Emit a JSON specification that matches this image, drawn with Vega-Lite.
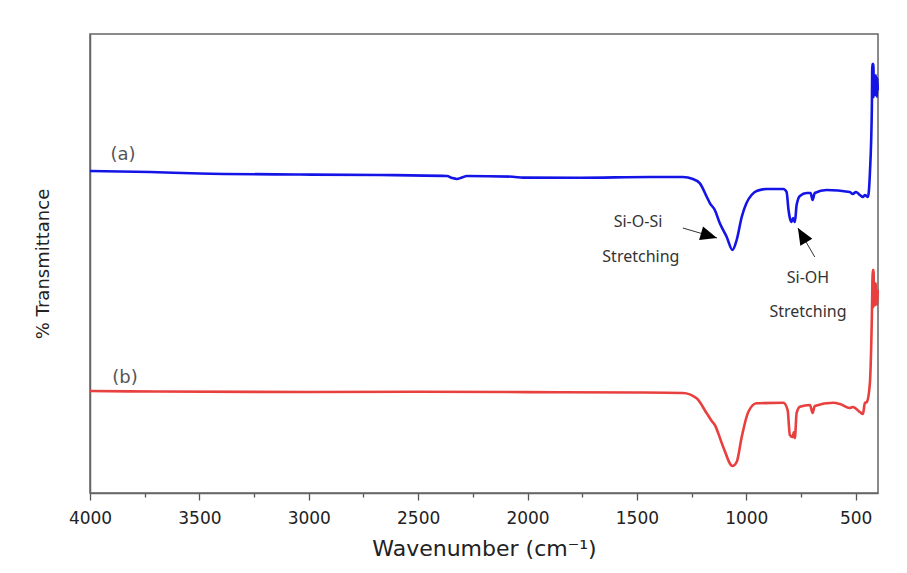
{
  "$schema": "https://vega.github.io/schema/vega-lite/v6.json",
  "width": 788,
  "height": 459,
  "autosize": {"type": "none"},
  "padding": {"left": 90, "top": 34, "right": 29, "bottom": 80},
  "background": "white",
  "config": {
    "view": {"stroke": "#666666", "strokeWidth": 1.5},
    "axis": {"grid": false}
  },
  "datasets": {
    "spectra": [
      {"s": "a", "w": 4000, "T": 70.15}, {"s": "a", "w": 3726, "T": 69.93}, {"s": "a", "w": 3497, "T": 69.61},
      {"s": "a", "w": 3040, "T": 69.39}, {"s": "a", "w": 2675, "T": 69.28}, {"s": "a", "w": 2368, "T": 69.06},
      {"s": "a", "w": 2345, "T": 68.63}, {"s": "a", "w": 2323, "T": 68.41}, {"s": "a", "w": 2300, "T": 68.74},
      {"s": "a", "w": 2277, "T": 69.06}, {"s": "a", "w": 2067, "T": 68.91}, {"s": "a", "w": 2021, "T": 68.7},
      {"s": "a", "w": 1761, "T": 68.69}, {"s": "a", "w": 1441, "T": 68.85}, {"s": "a", "w": 1290, "T": 68.85},
      {"s": "a", "w": 1244, "T": 68.41}, {"s": "a", "w": 1212, "T": 67.47}, {"s": "a", "w": 1181, "T": 64.55},
      {"s": "a", "w": 1166, "T": 63.12}, {"s": "a", "w": 1144, "T": 61.66}, {"s": "a", "w": 1121, "T": 58.76},
      {"s": "a", "w": 1090, "T": 55.84}, {"s": "a", "w": 1063, "T": 52.94}, {"s": "a", "w": 1044, "T": 55.12},
      {"s": "a", "w": 1021, "T": 60.13}, {"s": "a", "w": 999, "T": 63.18}, {"s": "a", "w": 976, "T": 64.92},
      {"s": "a", "w": 953, "T": 65.8}, {"s": "a", "w": 907, "T": 66.23}, {"s": "a", "w": 831, "T": 66.23},
      {"s": "a", "w": 816, "T": 65.58}, {"s": "a", "w": 807, "T": 61.66}, {"s": "a", "w": 801, "T": 59.91},
      {"s": "a", "w": 793, "T": 59.04}, {"s": "a", "w": 786, "T": 59.91}, {"s": "a", "w": 778, "T": 59.04},
      {"s": "a", "w": 770, "T": 62.75}, {"s": "a", "w": 755, "T": 64.71}, {"s": "a", "w": 724, "T": 65.36},
      {"s": "a", "w": 706, "T": 65.36}, {"s": "a", "w": 697, "T": 63.83}, {"s": "a", "w": 687, "T": 65.36},
      {"s": "a", "w": 633, "T": 66.01}, {"s": "a", "w": 527, "T": 65.58}, {"s": "a", "w": 513, "T": 65.14},
      {"s": "a", "w": 499, "T": 65.58}, {"s": "a", "w": 481, "T": 64.92}, {"s": "a", "w": 467, "T": 64.49},
      {"s": "a", "w": 458, "T": 64.92}, {"s": "a", "w": 444, "T": 64.49}, {"s": "a", "w": 435, "T": 69.72},
      {"s": "a", "w": 426, "T": 84.1}, {"s": "a", "w": 424, "T": 93.46}, {"s": "a", "w": 419, "T": 93.46},
      {"s": "a", "w": 417, "T": 86.27}, {"s": "a", "w": 415, "T": 91.07}, {"s": "a", "w": 410, "T": 86.71},
      {"s": "a", "w": 408, "T": 91.07}, {"s": "a", "w": 403, "T": 86.27}, {"s": "a", "w": 401, "T": 90.41},
      {"s": "a", "w": 399, "T": 87.8},
      {"s": "b", "w": 4000, "T": 22.22}, {"s": "b", "w": 3700, "T": 22.11}, {"s": "b", "w": 3000, "T": 22.0},
      {"s": "b", "w": 2500, "T": 22.05}, {"s": "b", "w": 2000, "T": 21.98}, {"s": "b", "w": 1500, "T": 21.9},
      {"s": "b", "w": 1290, "T": 21.79}, {"s": "b", "w": 1227, "T": 20.63}, {"s": "b", "w": 1181, "T": 17.36},
      {"s": "b", "w": 1159, "T": 15.75}, {"s": "b", "w": 1144, "T": 14.81}, {"s": "b", "w": 1106, "T": 10.09},
      {"s": "b", "w": 1063, "T": 5.88}, {"s": "b", "w": 1044, "T": 6.75}, {"s": "b", "w": 1021, "T": 12.2},
      {"s": "b", "w": 991, "T": 17.65}, {"s": "b", "w": 953, "T": 19.54}, {"s": "b", "w": 831, "T": 19.67},
      {"s": "b", "w": 811, "T": 18.08}, {"s": "b", "w": 801, "T": 12.64}, {"s": "b", "w": 788, "T": 12.2},
      {"s": "b", "w": 783, "T": 13.2}, {"s": "b", "w": 778, "T": 11.98}, {"s": "b", "w": 770, "T": 17.43},
      {"s": "b", "w": 755, "T": 18.8}, {"s": "b", "w": 709, "T": 19.17}, {"s": "b", "w": 697, "T": 17.43},
      {"s": "b", "w": 687, "T": 18.95}, {"s": "b", "w": 603, "T": 19.67}, {"s": "b", "w": 572, "T": 19.39},
      {"s": "b", "w": 527, "T": 18.52}, {"s": "b", "w": 513, "T": 18.74}, {"s": "b", "w": 481, "T": 17.65},
      {"s": "b", "w": 467, "T": 17.21}, {"s": "b", "w": 458, "T": 19.61}, {"s": "b", "w": 449, "T": 19.83},
      {"s": "b", "w": 435, "T": 23.97}, {"s": "b", "w": 426, "T": 38.34}, {"s": "b", "w": 422, "T": 48.58},
      {"s": "b", "w": 418, "T": 48.58}, {"s": "b", "w": 417, "T": 40.52}, {"s": "b", "w": 414, "T": 45.75},
      {"s": "b", "w": 410, "T": 40.96}, {"s": "b", "w": 408, "T": 45.75}, {"s": "b", "w": 403, "T": 40.96},
      {"s": "b", "w": 399, "T": 44.23}
    ],
    "series_labels": [
      {"label": "(a)", "w": 3849, "T": 73.64},
      {"label": "(b)", "w": 3840, "T": 25.05}
    ],
    "notes": [
      {"label": "Si-O-Si", "w": 1495, "T": 59.04},
      {"label": "Stretching", "w": 1482, "T": 51.42},
      {"label": "Si-OH", "w": 718, "T": 46.84},
      {"label": "Stretching", "w": 718, "T": 39.43}
    ],
    "arrows": [
      {"id": 1, "w": 1290, "T": 57.73, "w2": 1134, "T2": 55.56},
      {"id": 2, "w": 687, "T": 51.42, "w2": 764, "T2": 57.73}
    ]
  },
  "layer": [
    {
      "data": {"name": "spectra"},
      "mark": {"type": "line", "strokeWidth": 2.6, "strokeJoin": "round", "interpolate": "monotone"},
      "encoding": {
        "x": {
          "field": "w", "type": "quantitative",
          "scale": {"domain": [398, 4000], "reverse": true, "nice": false, "zero": false},
          "axis": {
            "values": [500, 750, 1000, 1250, 1500, 1750, 2000, 2250, 2500, 2750, 3000, 3250, 3500, 3750, 4000],
            "labelExpr": "datum.value % 500 === 0 ? datum.label : ''",
            "format": "d",
            "tickSize": {"condition": {"test": "datum.value % 500 === 0", "value": 7}, "value": 4},
            "tickColor": "#555555",
            "tickWidth": 1.3,
            "domainColor": "#666666",
            "domainWidth": 1.5,
            "labelFont": "DejaVu Sans",
            "labelFontSize": 17,
            "labelColor": "#222222",
            "labelPadding": 10,
            "labelFlush": false,
            "labelOverlap": false,
            "title": "Wavenumber (cm⁻¹)",
            "titleFont": "DejaVu Sans",
            "titleFontSize": 22,
            "titleFontWeight": "normal",
            "titleColor": "#222222",
            "titlePadding": 12
          }
        },
        "y": {
          "field": "T", "type": "quantitative",
          "scale": {"domain": [0, 100], "nice": false},
          "axis": {
            "ticks": false,
            "labels": false,
            "domainColor": "#666666",
            "domainWidth": 1.5,
            "title": "% Transmittance",
            "titleFont": "DejaVu Sans",
            "titleFontSize": 18,
            "titleFontWeight": "normal",
            "titleColor": "#222222",
            "titlePadding": 38
          }
        },
        "color": {
          "field": "s", "type": "nominal",
          "scale": {"domain": ["a", "b"], "range": ["#1414e6", "#e8403f"]},
          "legend": null
        }
      }
    },
    {
      "data": {"name": "series_labels"},
      "mark": {"type": "text", "font": "DejaVu Sans", "fontSize": 18, "color": "#555555", "align": "center", "baseline": "middle"},
      "encoding": {
        "x": {"field": "w", "type": "quantitative"},
        "y": {"field": "T", "type": "quantitative"},
        "text": {"field": "label"}
      }
    },
    {
      "data": {"name": "notes"},
      "mark": {"type": "text", "font": "Noto Sans", "fontSize": 16, "color": "#333333", "align": "center", "baseline": "middle"},
      "encoding": {
        "x": {"field": "w", "type": "quantitative"},
        "y": {"field": "T", "type": "quantitative"},
        "text": {"field": "label"}
      }
    },
    {
      "data": {"name": "arrows"},
      "mark": {"type": "rule", "color": "#333333", "strokeWidth": 1},
      "encoding": {
        "x": {"field": "w", "type": "quantitative"},
        "y": {"field": "T", "type": "quantitative"},
        "x2": {"field": "w2"},
        "y2": {"field": "T2"}
      }
    },
    {
      "data": {"name": "arrows"},
      "transform": [{"filter": "datum.id === 1"}],
      "mark": {"type": "point", "shape": "M0,0L-1,-0.42L-1,0.42Z", "filled": true, "color": "#000000", "opacity": 1, "size": 1100, "angle": 16.4},
      "encoding": {
        "x": {"field": "w2", "type": "quantitative"},
        "y": {"field": "T2", "type": "quantitative"}
      }
    },
    {
      "data": {"name": "arrows"},
      "transform": [{"filter": "datum.id === 2"}],
      "mark": {"type": "point", "shape": "M0,0L-1,-0.42L-1,0.42Z", "filled": true, "color": "#000000", "opacity": 1, "size": 1100, "angle": 239.6},
      "encoding": {
        "x": {"field": "w2", "type": "quantitative"},
        "y": {"field": "T2", "type": "quantitative"}
      }
    }
  ]
}
